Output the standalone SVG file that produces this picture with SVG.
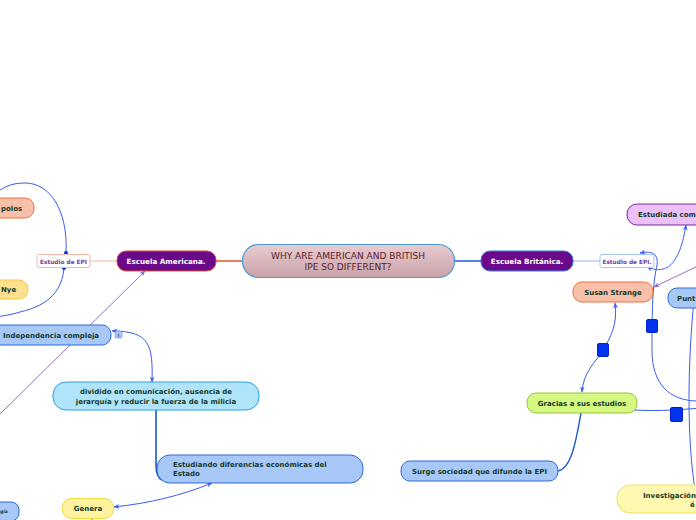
<svg xmlns="http://www.w3.org/2000/svg" width="696" height="520" viewBox="0 0 696 520">
<defs>
<linearGradient id="cg" x1="0" y1="0" x2="0" y2="1"><stop offset="0" stop-color="#e8ccd0"/><stop offset="1" stop-color="#c8a2a8"/></linearGradient>
<marker id="ah" viewBox="0 0 10 10" refX="9" refY="5" markerWidth="6" markerHeight="6" orient="auto-start-reverse"><path d="M0,1 L10,5 L0,9 L3,5 Z" fill="#3a5cf0"/></marker>
<marker id="ap" viewBox="0 0 10 10" refX="9" refY="5" markerWidth="6" markerHeight="6" orient="auto"><path d="M0,1 L10,5 L0,9 L3,5 Z" fill="#8a68c0"/></marker>
</defs>
<style>
text{font-family:"DejaVu Sans",Verdana,sans-serif;font-weight:bold;font-size:7px;fill:#163a2a}
.w{fill:#fff;font-size:7.2px}
.e{fill:#7a3aa0;font-size:5.8px}
.c{font-weight:normal;font-size:9px;fill:#5a1a2a}
.lnk{fill:none;stroke:#3a5cf0;stroke-width:1}
.sq{fill:#0033ee;stroke:#0022cc;stroke-width:1}
</style>
<rect width="696" height="520" fill="#fff"/>
<g id="connectors">
<path d="M242,261 H216" stroke="#e05030" stroke-width="1.5" fill="none"/>
<path d="M454,261 H481" stroke="#1a5ad0" stroke-width="1.5" fill="none"/>
<path d="M90,261 H117" stroke="#f8c0b0" stroke-width="1.2" fill="none"/>
<path d="M573,261 H600" stroke="#a8c4f0" stroke-width="1.2" fill="none"/>
<path class="lnk" d="M66,253 C68,210 50,183 25,183 C10,183 2,188 -5,194"/>
<circle cx="66" cy="253" r="2" fill="#0033ee"/>
<path class="lnk" d="M64,268 C62,290 50,305 20,312 C10,315 3,316 -5,317"/>
<circle cx="64" cy="268" r="2" fill="#0033ee"/>
<path d="M0,414 L145,271" stroke="#9070c0" stroke-width="1" fill="none" marker-end="url(#ap)"/>
<path class="lnk" d="M112,331 C150,331 153,345 152,382" marker-start="url(#ah)" marker-end="url(#ah)"/>
<path d="M156,410 V465 C156,474 158,478 162,480" stroke="#1a5ad0" stroke-width="1.6" fill="none"/>
<path class="lnk" d="M212,483 C180,496 150,503 114,507" marker-start="url(#ah)" marker-end="url(#ah)"/>
<path d="M92,518 V522" stroke="#3a5cf0" fill="none"/>
<path d="M581,413 C576,440 572,468 558,471" stroke="#1a5ad0" stroke-width="1.4" fill="none"/>
<path class="lnk" d="M615,303 C618,325 610,338 603,350 C596,362 583,372 582,392" marker-start="url(#ah)" marker-end="url(#ah)"/>
<path class="lnk" d="M696,401 C670,400 652,385 652,350 C652,320 652,290 656,270 C660,255 654,250 640,253" marker-end="url(#ah)"/>
<path class="lnk" d="M647,267 C660,272 678,275 686,225" marker-start="url(#ah)" marker-end="url(#ah)"/>
<path d="M700,265 L654,287" stroke="#9070c0" stroke-width="1" fill="none" marker-end="url(#ap)"/>
<path class="lnk" d="M700,408 C680,410 650,412 620,409" marker-end="url(#ah)"/>
<path class="lnk" d="M694,300 C688,360 686,440 696,495"/>
<rect class="sq" x="597.5" y="343.5" width="11" height="13" rx="1.5"/>
<rect class="sq" x="646.5" y="319.5" width="11" height="13" rx="1.5"/>
<rect class="sq" x="670.5" y="407.5" width="12" height="14" rx="1.5"/>
</g>
<g id="central">
<rect x="242.5" y="244.5" width="212" height="33" rx="16" fill="url(#cg)" stroke="#4a9ad8" stroke-width="1.2"/>
<text class="c" x="348" y="259" text-anchor="middle">WHY ARE AMERICAN AND BRITISH</text>
<text class="c" x="348" y="270" text-anchor="middle">IPE SO DIFFERENT?</text>
</g>
<g id="escuela-americana">
<rect x="117" y="251" width="99" height="20" rx="9" fill="#6a0a8a" stroke="#e05030"/>
<text class="w" x="166" y="264" text-anchor="middle">Escuela Americana.</text>
</g>
<g id="escuela-britanica">
<rect x="481" y="251" width="92" height="20" rx="9" fill="#6a0a8a" stroke="#3a7ad8"/>
<text class="w" x="527" y="264" text-anchor="middle">Escuela Británica.</text>
</g>
<g id="epi-left">
<rect x="37" y="254.5" width="53" height="13" rx="2" fill="#fff" stroke="#f4b4a8"/>
<text class="e" x="63.5" y="263.5" text-anchor="middle">Estudio de EPI</text>
</g>
<g id="epi-right">
<rect x="600" y="254.5" width="54" height="13" rx="2" fill="#fff" stroke="#a8c4f0"/>
<text class="e" x="627" y="263.5" text-anchor="middle">Estudio de EPI.</text>
</g>
<g id="polos">
<rect x="-20" y="198" width="54" height="20" rx="9" fill="#f8c0a8" stroke="#f07040"/>
<text x="1" y="211">polos</text>
</g>
<g id="nye">
<rect x="-20" y="280" width="48" height="19" rx="9" fill="#fde090" stroke="#f8c840"/>
<text x="1" y="292">Nye</text>
</g>
<g id="independencia">
<rect x="-20" y="325" width="131" height="20" rx="9" fill="#a8c8f8" stroke="#2a6ad8"/>
<text x="3" y="338">Independencia compleja</text>
<rect x="115" y="331" width="7" height="7" rx="1.5" fill="#a8c8f8" stroke="#5a8ae0" stroke-width="0.6"/>
<text x="118.5" y="336.5" text-anchor="middle" style="font-size:4.5px;fill:#335">!</text>
</g>
<g id="dividido">
<rect x="53" y="382" width="206" height="28" rx="13" fill="#b0e4fa" stroke="#28a0e8"/>
<text x="156" y="394" text-anchor="middle">dividido en comunicación, ausencia de</text>
<text x="156" y="404" text-anchor="middle">jerarquía y reducir la fuerza de la milicia</text>
</g>
<g id="estudiando">
<rect x="157" y="455" width="206" height="28" rx="13" fill="#a8c8f8" stroke="#2a6ad8"/>
<text x="173" y="467">Estudiando diferencias económicas del</text>
<text x="173" y="476">Estado</text>
</g>
<g id="genera">
<rect x="62.5" y="498.5" width="51" height="20" rx="9" fill="#fff3a0" stroke="#f0d840"/>
<text x="88" y="511" text-anchor="middle">Genera</text>
</g>
<g id="gia">
<rect x="-20" y="502" width="39" height="19" rx="8" fill="#a8c8f8" stroke="#2a6ad8"/>
<text x="0" y="513" style="font-size:4.5px">gía</text>
</g>
<g id="estudiada">
<rect x="627" y="204" width="90" height="21" rx="10" fill="#ecc0f8" stroke="#7a2a9a"/>
<text x="638" y="217">Estudiada com</text>
</g>
<g id="susan">
<rect x="573" y="282" width="80" height="20" rx="9" fill="#f8c0a8" stroke="#f07040"/>
<text x="613" y="295" text-anchor="middle">Susan Strange</text>
</g>
<g id="punt">
<rect x="668" y="288" width="50" height="20" rx="9" fill="#a8c8f8" stroke="#2a6ad8"/>
<text x="677" y="301">Punt</text>
</g>
<g id="gracias">
<rect x="527" y="393" width="110" height="20" rx="9" fill="#d4f880" stroke="#98c040"/>
<text x="582" y="406" text-anchor="middle">Gracias a sus estudios</text>
</g>
<g id="surge">
<rect x="401" y="461" width="157" height="20" rx="9" fill="#a8c8f8" stroke="#2a6ad8"/>
<text x="479.5" y="474" text-anchor="middle">Surge sociedad que difunde la EPI</text>
</g>
<g id="investigacion">
<rect x="617" y="485" width="110" height="28" rx="13" fill="#fff8b0" stroke="#f0e060"/>
<text x="643" y="498">Investigación</text>
<text x="690" y="507">é</text>
</g>
</svg>
